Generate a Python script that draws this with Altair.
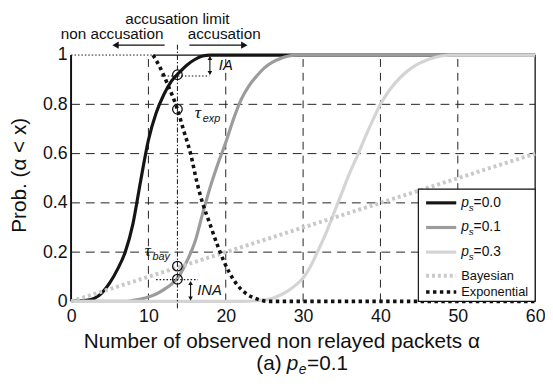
import altair as alt
import pandas as pd

FONT = "Liberation Sans"
SERIF = "Liberation Serif"
INK = "#111111"

# ---------------- data ----------------
x_ticks = [0, 10, 20, 30, 40, 50, 60]
y_ticks = [0, 0.2, 0.4, 0.6, 0.8, 1.0]
grid_x = [10, 20, 30, 40, 50]
grid_y = [0.2, 0.4, 0.6, 0.8]

ps00_x = [0, 2, 3, 4, 5, 6, 7, 8, 9, 10, 11, 12, 13, 14, 15, 16, 17, 18, 60]
ps00_y = [0, 0.004, 0.012, 0.035, 0.075, 0.13, 0.2, 0.315, 0.49, 0.655, 0.765, 0.84,
          0.895, 0.93, 0.96, 0.982, 0.996, 1.0, 1.0]

ps01_x = [0, 7, 8, 9, 10, 11, 12, 13, 14, 15, 16, 17, 18, 19, 20, 21, 22, 23, 24,
          25, 26, 27, 28, 29, 60]
ps01_y = [0, 0, 0.004, 0.01, 0.018, 0.03, 0.048, 0.07, 0.105, 0.165, 0.24, 0.355,
          0.465, 0.56, 0.645, 0.74, 0.82, 0.875, 0.915, 0.948, 0.97, 0.985, 0.995, 1.0, 1.0]

ps03_x = [0, 22, 24, 26, 27, 28, 29, 30, 31, 32, 33, 34, 35, 36, 37, 38, 39, 40, 41,
          42, 43, 44, 45, 46, 47, 48, 49, 60]
ps03_y = [0, 0, 0.003, 0.012, 0.025, 0.042, 0.065, 0.095, 0.145, 0.21, 0.28, 0.36,
          0.44, 0.52, 0.59, 0.665, 0.735, 0.8, 0.85, 0.89, 0.922, 0.947, 0.966, 0.98,
          0.99, 0.997, 1.0, 1.0]

bayes_x = [0, 60]
bayes_y = [0, 0.6]

exp_x = [10.6, 11.5, 12.5, 13.75, 14.5, 15.45, 16.3, 17.0, 18.0, 18.9, 19.8, 20.5,
         21.4, 22.7, 24.0, 25.5, 60]
exp_y = [1.0, 0.95, 0.88, 0.78, 0.70, 0.60, 0.48, 0.40, 0.31, 0.23, 0.16, 0.115,
         0.07, 0.03, 0.01, 0.0, 0.0]
exp_flat_x = [0, 10.6]
exp_flat_y = [1.0, 1.0]

threshold = 13.75
circle_y = [0.92, 0.78, 0.143, 0.09]

legend_rows_y = [0.40, 0.30, 0.20, 0.104, 0.038]
ps_labels = ["=0.0", "=0.1", "=0.3"]
other_labels = ["Bayesian", "Exponential"]

# ---------------- scales / axes ----------------
xs = alt.Scale(domain=[0, 60], nice=False, zero=False)
ys = alt.Scale(domain=[0, 1], nice=False, zero=False)
xaxis = alt.Axis(values=x_ticks, title=None, grid=False, ticks=False, domain=False,
                 labelFont=FONT, labelFontSize=18, labelColor=INK, labelPadding=6,
                 labelFlush=False, labelOverlap=False, format="d")
yaxis = alt.Axis(values=y_ticks, title=None, grid=False, ticks=False, domain=False,
                 labelFont=FONT, labelFontSize=18, labelColor=INK, labelPadding=4,
                 labelFlush=False, labelOverlap=False, format=".1~f")


def X(f="x"):
    return alt.X(f"{f}:Q", scale=xs, axis=xaxis)


def Y(f="y"):
    return alt.Y(f"{f}:Q", scale=ys, axis=yaxis)


def curve(xv, yv, color, width, dash=None, interp="monotone"):
    df = pd.DataFrame({"x": xv, "y": yv})
    kw = dict(color=color, strokeWidth=width, interpolate=interp, strokeCap="butt")
    if dash:
        kw["strokeDash"] = dash
    return alt.Chart(df).mark_line(**kw).encode(x=X(), y=Y(), order="x:Q")


def seg(x1, y1, x2, y2, color=INK, width=1.0, dash=None):
    df = pd.DataFrame({"x": [x1], "y": [y1], "x2": [x2], "y2": [y2]})
    kw = dict(color=color, strokeWidth=width, strokeCap="butt")
    if dash:
        kw["strokeDash"] = dash
    return alt.Chart(df).mark_rule(**kw).encode(
        x=X(), y=Y(), x2=alt.X2("x2:Q"), y2=alt.Y2("y2:Q"))


def head(xv, yv, shape, size):
    df = pd.DataFrame({"x": [xv], "y": [yv]})
    return alt.Chart(df).mark_point(shape=shape, filled=True, size=size, color=INK,
                                    opacity=1, strokeWidth=0).encode(x=X(), y=Y())


def dtext(xv, yv, t, size, align="left", baseline="alphabetic", italic=False,
          font=FONT, dx=0, dy=0):
    df = pd.DataFrame({"x": [xv], "y": [yv], "t": [t]})
    kw = dict(font=font, fontSize=size, align=align, baseline=baseline, color=INK,
              dx=dx, dy=dy)
    if italic:
        kw["fontStyle"] = "italic"
    return alt.Chart(df).mark_text(**kw).encode(x=X(), y=Y(), text="t:N")


def ptext(px, py, t, size, align="left", baseline="alphabetic", italic=False,
          font=FONT, angle=0):
    df = pd.DataFrame({"t": [t]})
    kw = dict(font=font, fontSize=size, align=align, baseline=baseline, color=INK)
    if italic:
        kw["fontStyle"] = "italic"
    if angle:
        kw["angle"] = angle
    return alt.Chart(df).mark_text(**kw).encode(x=alt.value(px), y=alt.value(py),
                                                text="t:N")


layers = []

# grid
gv = pd.DataFrame({"x": grid_x, "y": [0] * len(grid_x), "y2": [1] * len(grid_x)})
layers.append(alt.Chart(gv).mark_rule(color="#222", strokeWidth=1, strokeDash=[8, 6]).encode(
    x=X(), y=Y(), y2=alt.Y2("y2:Q")))
gh = pd.DataFrame({"y": grid_y, "x": [0] * len(grid_y), "x2": [60] * len(grid_y)})
layers.append(alt.Chart(gh).mark_rule(color="#222", strokeWidth=1, strokeDash=[9, 6]).encode(
    x=X(), y=Y(), x2=alt.X2("x2:Q")))

# borders
layers.append(seg(0, 0, 0, 1, width=2))
layers.append(seg(60, 0, 60, 1, width=1.3))
layers.append(seg(10.6, 1, 60, 1, width=1.3))

# curves
layers.append(curve(ps00_x, ps00_y, "#151515", 3.2))
layers.append(curve(ps01_x, ps01_y, "#9c9c9c", 3.2))
layers.append(curve(ps03_x, ps03_y, "#d4d4d4", 3.2))
layers.append(curve(bayes_x, bayes_y, "#c9c9c9", 4, dash=[3, 3], interp="linear"))
layers.append(curve(exp_x, exp_y, "#111111", 3.6, dash=[3.5, 3.5]))
layers.append(curve(exp_flat_x, exp_flat_y, "#111111", 1, dash=[1.5, 2], interp="linear"))

# threshold line (accusation limit)
layers.append(seg(threshold, -0.028, threshold, 1.045, width=1, dash=[5, 2, 1.5, 2]))

# circles
cdf = pd.DataFrame({"x": [threshold] * len(circle_y), "y": circle_y})
layers.append(alt.Chart(cdf).mark_point(shape="circle", filled=False, size=95, color=INK,
                                        strokeWidth=1.3, opacity=1).encode(x=X(), y=Y()))

# IA / INA helper lines and arrows
layers.append(seg(11.6, 0.915, 17.9, 0.915, width=1.2, dash=[1.5, 2]))
layers.append(seg(17.95, 0.99, 17.95, 0.925, width=1.1))
layers.append(head(17.95, 0.988, "triangle-up", 22))
layers.append(head(17.95, 0.927, "triangle-down", 22))
layers.append(seg(11.0, 0.088, 16.4, 0.088, width=1.2, dash=[1.5, 2]))
layers.append(seg(15.45, 0.078, 15.45, 0.01, width=1.1))
layers.append(head(15.45, 0.075, "triangle-up", 22))
layers.append(head(15.45, 0.012, "triangle-down", 22))

# top arrows
layers.append(seg(12.1, 1.04, 5.9, 1.04, width=1.2))
layers.append(head(5.75, 1.04, "triangle-left", 55))
layers.append(seg(15.3, 1.04, 22.2, 1.04, width=1.2))
layers.append(head(22.4, 1.04, "triangle-right", 55))

# annotation texts
layers.append(dtext(threshold, 1.128, "accusation limit", 15.5, align="center"))
layers.append(dtext(5.3, 1.064, "non accusation", 15.5, align="center"))
layers.append(dtext(19.8, 1.064, "accusation", 15.5, align="center"))
layers.append(dtext(19.1, 0.94, "IA", 15, italic=True))
layers.append(dtext(16.3, 0.024, "INA", 15, italic=True))
layers.append(dtext(16.0, 0.744, "τ", 18, italic=True, font=SERIF))
layers.append(dtext(16.0, 0.744, "exp", 11, italic=True, dx=8, dy=4))
layers.append(dtext(9.5, 0.184, "τ", 18, italic=True, font=SERIF))
layers.append(dtext(9.5, 0.184, "bay", 11, italic=True, dx=8, dy=4))

# legend
lb = pd.DataFrame({"x": [44.9], "x2": [60], "y": [0.0], "y2": [0.456]})
layers.append(alt.Chart(lb).mark_rect(fill="white", stroke=INK, strokeWidth=1.2).encode(
    x=X(), x2=alt.X2("x2:Q"), y=Y(), y2=alt.Y2("y2:Q")))
leg_styles = [("#151515", 3.2, None), ("#9c9c9c", 3.2, None), ("#d4d4d4", 3.2, None),
              ("#c9c9c9", 4, [3, 3]), ("#111111", 3.6, [3.5, 3.5])]
for yv, (c, w, d) in zip(legend_rows_y, leg_styles):
    layers.append(seg(45.9, yv, 49.8, yv, color=c, width=w, dash=d))
for yv, lab in zip(legend_rows_y[:3], ps_labels):
    layers.append(dtext(50.45, yv, "p", 14, italic=True, baseline="middle"))
    layers.append(dtext(50.45, yv, "s", 10, italic=True, baseline="middle", dx=7.5, dy=5))
    layers.append(dtext(50.45, yv, lab, 14, baseline="middle", dx=12.5))
for yv, lab in zip(legend_rows_y[3:], other_labels):
    layers.append(dtext(50.45, yv, lab, 13, baseline="middle"))

# axis titles (pixel positions relative to plot area)
layers.append(ptext(13, 297, "Number of observed non relayed packets α", 21))
layers.append(ptext(188, 320, "(a)", 21))
layers.append(ptext(219, 320, "p", 21, italic=True))
layers.append(ptext(231, 324, "e", 14, italic=True))
layers.append(ptext(239.5, 320, "=0.1", 21))
layers.append(ptext(-52, 122, "Prob. (α < x)", 21, align="center", baseline="middle",
                    angle=270))

chart = alt.layer(*layers).properties(
    width=471, height=250,
    autosize=alt.AutoSizeParams(type="none"),
    padding={"left": 64, "top": 45, "right": 10, "bottom": 76},
    background="white",
).configure_view(stroke=None)

chart.save("out.html", embed_options={"renderer": "svg", "actions": False})
